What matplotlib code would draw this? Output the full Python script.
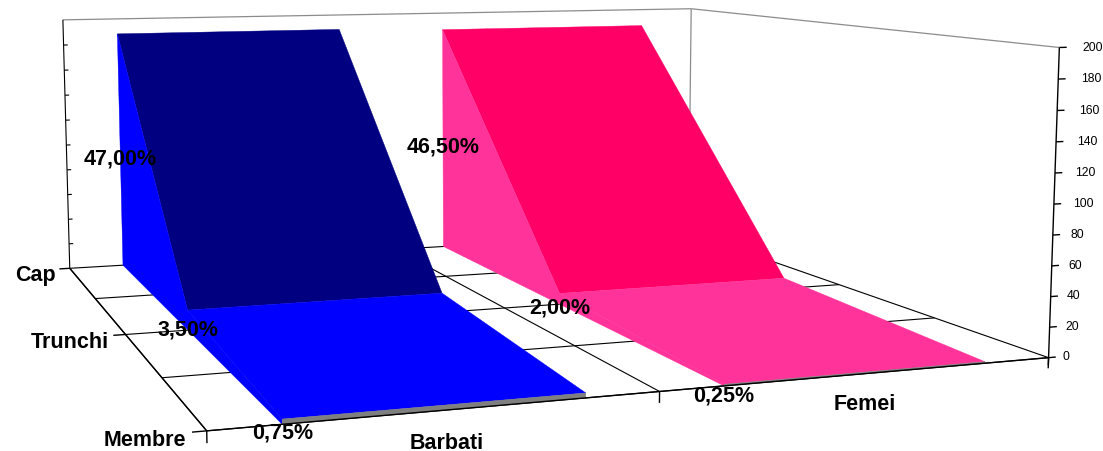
import numpy as np
import matplotlib.pyplot as plt
from mpl_toolkits.mplot3d.art3d import Poly3DCollection, Line3DCollection

plt.rcParams['font.family'] = ['Liberation Sans', 'DejaVu Sans']

categories = ['Cap', 'Trunchi', 'Membre']
series = ['Barbati', 'Femei']
# share of cases per body region, percent
barbati_pct = [47.00, 3.50, 0.75]
femei_pct = [46.50, 2.00, 0.25]
total_cases = 400
value_ticks = [0, 20, 40, 60, 80, 100, 120, 140, 160, 180, 200]

light_colors = ['#0000FF', '#FF3399']
dark_colors = ['#000080', '#FF0066']
front_color = '#7F7F7F'

n_cat = len(categories)
n_ser = len(series)
cat_y = [n_cat - 1 - k for k in range(n_cat)]   # Cap at the back, Membre in front
zmax = value_ticks[-1]
slab_lo, slab_hi = 0.156, 0.826
xw, yw = n_ser, n_cat - 1

fig = plt.figure(figsize=(11.03, 4.52), dpi=100)
ax = fig.add_axes([-0.0455, -0.6086, 0.9796, 2.3904], projection='3d',
                  computed_zorder=False)
ax.set_proj_type('persp', focal_length=0.3469)
ax.view_init(elev=7.3, azim=-109.8, roll=0)
ax.set_xlim(0, xw)
ax.set_ylim(0, yw)
ax.set_zlim(0, zmax)
ax.set_xticks([])
ax.set_yticks([])
ax.set_zticks([])
ax.set_box_aspect((1, 1.0, 0.365), zoom=1)
ax.set_axis_off()


def add(coll):
    coll.set_clip_on(False)
    ax.add_collection3d(coll)


# back wall, side wall and floor
walls = [
    [(0, yw, 0), (xw, yw, 0), (xw, yw, zmax), (0, yw, zmax)],
    [(xw, 0, 0), (xw, yw, 0), (xw, yw, zmax), (xw, 0, zmax)],
    [(0, 0, 0), (xw, 0, 0), (xw, yw, 0), (0, yw, 0)],
]
add(Poly3DCollection(walls, facecolors='white', edgecolors='none', zorder=1))
wall_edges = [
    [(0, yw, zmax), (xw, yw, zmax)],
    [(xw, yw, zmax), (xw, 0, zmax)],
    [(xw, yw, 0), (xw, yw, zmax)],
]
add(Line3DCollection(wall_edges, colors='#8C8C8C', linewidths=0.9, zorder=2))

grid = []
for y in np.arange(0, yw + 0.01, 0.5):
    grid.append([(0, y, 0), (xw, y, 0)])
for x in range(n_ser + 1):
    grid.append([(x, 0, 0), (x, yw, 0)])
grid.append([(0, yw, 0), (0, yw, zmax)])
grid += [[(0, yw, v), (0.012, yw, v)] for v in value_ticks[1:-1]]
add(Line3DCollection(grid, colors='black', linewidths=0.8, zorder=2))

# one slab per series, back series first
for i in reversed(range(n_ser)):
    pct = [barbati_pct, femei_pct][i]
    vals = [p * total_cases / 100 for p in pct]
    s0, s1 = i + slab_lo, i + slab_hi
    faces, colors = [], []
    for k in range(n_cat - 1):
        faces.append([(s0, cat_y[k], vals[k]), (s1, cat_y[k], vals[k]),
                      (s1, cat_y[k + 1], vals[k + 1]), (s0, cat_y[k + 1], vals[k + 1])])
        steep = vals[k] - vals[k + 1] > 20
        colors.append(dark_colors[i] if steep else light_colors[i])
    side = [(s0, cat_y[0], 0)] + [(s0, y, v) for y, v in zip(cat_y, vals)] + [(s0, cat_y[-1], 0)]
    faces.append(side)
    colors.append(light_colors[i])
    faces.append([(s0, 0, 0), (s1, 0, 0), (s1, 0, vals[-1]), (s0, 0, vals[-1])])
    colors.append(front_color)
    add(Poly3DCollection(faces, facecolors=colors, edgecolors=colors,
                         linewidths=0.3, zorder=5 + (n_ser - i)))
    for y, v, p in zip(cat_y, vals, pct):
        label = f'{p:.2f}%'.replace('.', ',')
        ax.text(s0, y, v / 2 - 6, label, ha='center', va='center', fontsize=15.5,
                fontweight='bold', zorder=20)

# axes: category axis on the left, series along the front, values at the right
axis_lines = [[(0, 0, 0), (0, yw, 0)], [(0, 0, 0), (xw, 0, 0)], [(xw, 0, -5), (xw, 0, zmax)]]
axis_lines += [[(0, y, 0), (-0.03, y, 0)] for y in cat_y]
axis_lines += [[(x, 0, 0), (x, 0, -7)] for x in range(n_ser + 1)]
axis_lines += [[(xw, 0, v), (xw + 0.02, 0, v)] for v in value_ticks]
add(Line3DCollection(axis_lines, colors='black', linewidths=1.0, zorder=15))

for v in value_ticks:
    ax.text(xw + 0.04 + v * 0.00012, 0, v, str(v), ha='left', va='center',
            fontsize=8.7, zorder=20)
for name, y in zip(categories, cat_y):
    ax.text(-0.042, y, -4, name, ha='right', va='center', fontsize=15.5,
            fontweight='bold', zorder=20)
for i, name in enumerate(series):
    ax.text(i + 0.51, 0, -19, name, ha='center', va='center', fontsize=15.5,
            fontweight='bold', zorder=20)

fig.savefig('out.png', dpi=100)
